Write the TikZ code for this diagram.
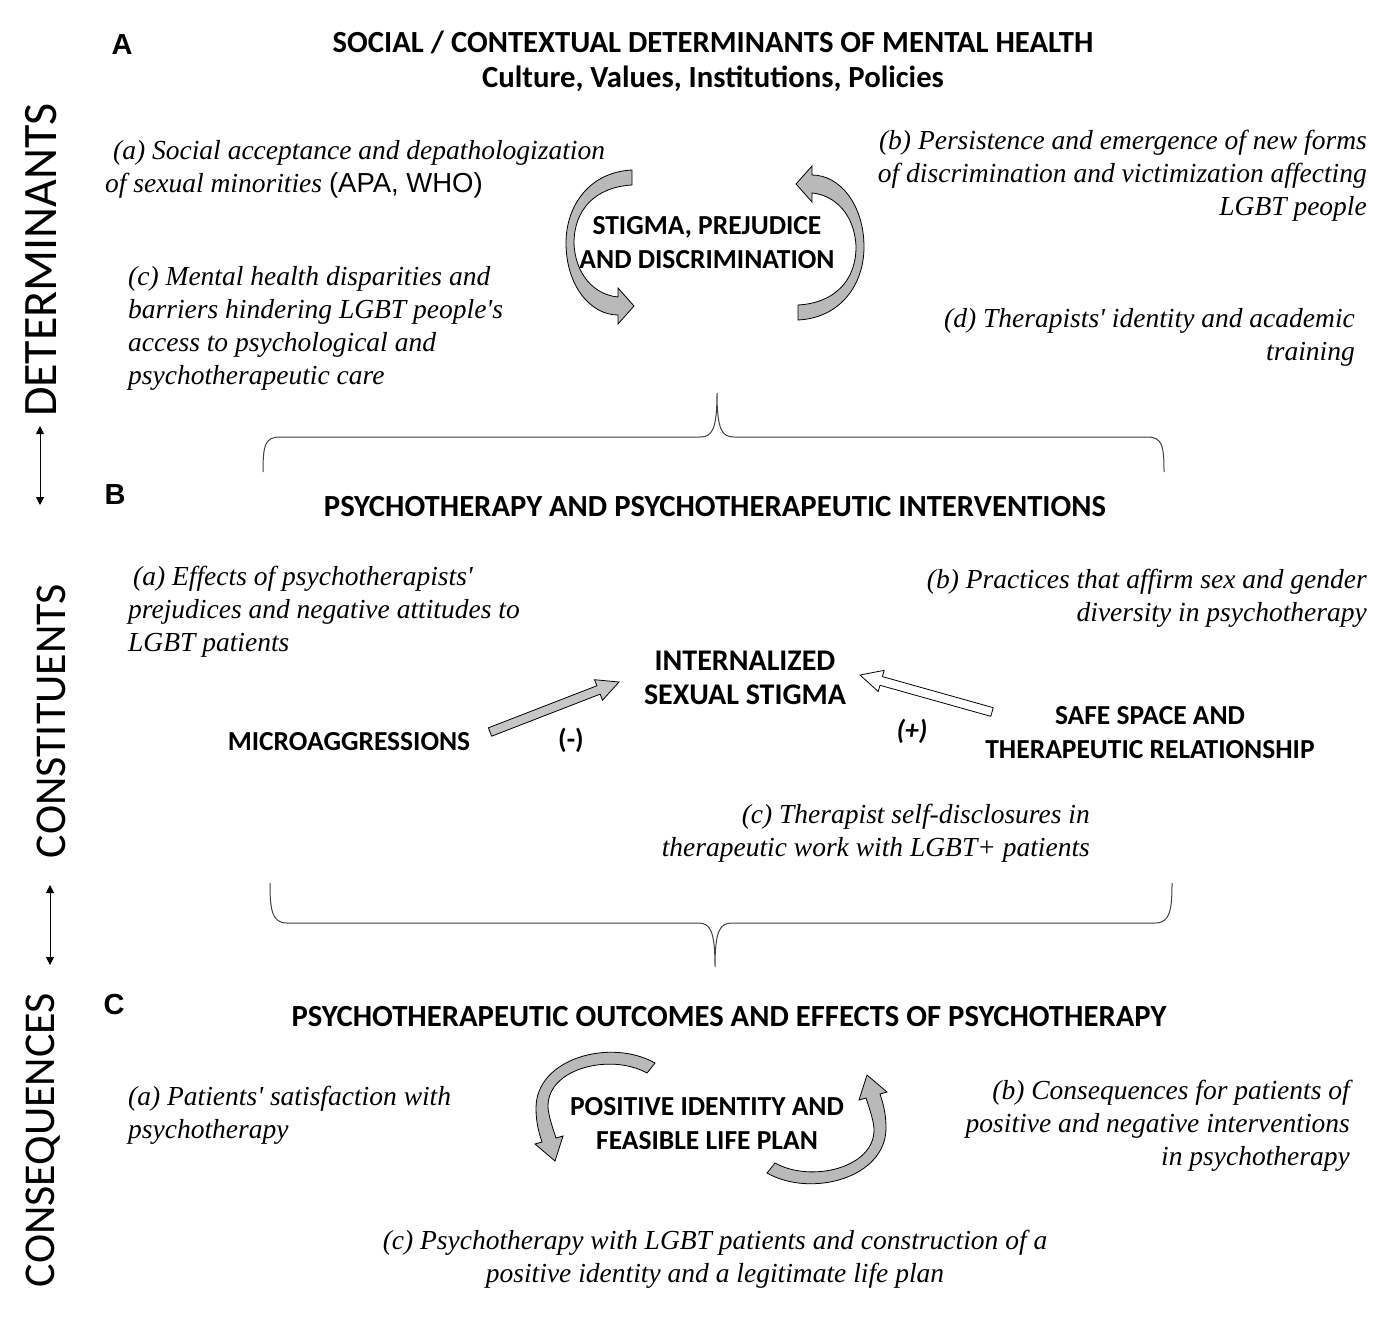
\documentclass[tikz,border=0pt]{standalone}
\usepackage{fontspec}
\setmainfont{Liberation Serif}
\newfontfamily\calfont{Carlito}
\newfontfamily\arfont{Liberation Sans}
\usetikzlibrary{calc,arrows.meta}

\newcommand{\ap}{\textquotesingle}

\tikzset{
  note/.style={font=\itshape\fontsize{27.5}{33}\selectfont,inner sep=0pt},
  caps/.style={font=\calfont\bfseries\fontsize{27.5}{34}\selectfont,align=center,inner sep=0pt},
  title/.style={caps,font=\calfont\bfseries\fontsize{30.7}{35}\selectfont},
  letter/.style={font=\arfont\bfseries\fontsize{29}{30}\selectfont,inner sep=0pt},
  side/.style={font=\calfont\fontsize{44}{48}\selectfont,rotate=90,inner sep=0pt},
  band/.style={draw=black,line width=0.8pt,fill=gray!55},
  brace/.style={draw=black!75,line width=1pt},
  updown/.style={{Triangle[length=8pt,width=8pt]}-{Triangle[length=8pt,width=8pt]},line width=1pt},
  loopA/.pic={
    \path[band] (-83,-75) .. controls (-125,-73) and (-149,-40) .. (-149,-2)
      .. controls (-149,40) and (-125,70) .. (-97,70)
      -- (-97,79) -- (-81,61) -- (-97,43) -- (-97,52)
      .. controls (-120,50) and (-140,30) .. (-141,-2)
      .. controls (-141,-35) and (-120,-58) .. (-83,-60) -- cycle;
  },
  loopC/.pic={
    \path[band] (-56,-55) .. controls (-100,-80) and (-175,-60) .. (-175,-10)
      .. controls (-175,5) and (-172,15) .. (-169,24)
      -- (-176,26) -- (-156,43) -- (-148,18) -- (-155,20)
      .. controls (-160,5) and (-163,-5) .. (-163,-12)
      .. controls (-163,-50) and (-100,-65) .. (-64,-45) -- cycle;
  },
}

% straight block arrow: from, to, fill
\newcommand{\blockarrow}[3]{%
  \path[draw=black,line width=0.8pt,fill=#3]
    ($(#1)!4.5pt!-90:(#2)$)
    -- ($(#2)!22pt!(#1)!4.5pt!90:(#1)$)
    -- ($(#2)!22pt!(#1)!11pt!90:(#1)$)
    -- (#2)
    -- ($(#2)!22pt!(#1)!11pt!-90:(#1)$)
    -- ($(#2)!22pt!(#1)!4.5pt!-90:(#1)$)
    -- ($(#1)!4.5pt!90:(#2)$) -- cycle;}

\begin{document}
\begin{tikzpicture}[x=1pt,y=-1pt]
\useasboundingbox[fill=white] (0,0) rectangle (1396,1317);

% side labels
\node[side,font=\calfont\fontsize{48}{50}\selectfont] (det) at (41,260) {DETERMINANTS};
\node[side] (cons) at (51,721) {CONSTITUENTS};
\node[side] (conq) at (43,1140) {CONSEQUENCES};
\coordinate (d1) at (40,426);
\coordinate (d2) at (40,505);
\coordinate (c1) at (50,885);
\coordinate (c2) at (50,965);
\draw[updown] (d1) -- (d2);
\draw[updown] (c1) -- (c2);

% A
\node[letter] (la) at (122,45) {A};
\node[title] (ta) at (713,61) {SOCIAL / CONTEXTUAL DETERMINANTS OF MENTAL HEALTH\\Culture, Values, Institutions, Policies};
\node[note,anchor=north west,align=left] (aa) at (105,140) {\hspace*{8pt}(a) Social acceptance and depathologization\\of sexual minorities {\upshape\arfont(APA, WHO)}};
\node[note,anchor=north east,align=right] (ab) at (1367,130) {(b) Persistence and emergence of new forms\\of discrimination and victimization affecting\\LGBT people};
\node[note,anchor=north west,align=left] (ac) at (128,266) {(c) Mental health disparities and\\barriers hindering LGBT people\ap s\\access to psychological and\\psychotherapeutic care};
\node[note,anchor=north east,align=right] (ad) at (1355,308) {(d) Therapists\ap{} identity and academic\\training};
\node[caps] (stigma) at (707,243) {STIGMA, PREJUDICE\\AND DISCRIMINATION};
\pic at (715,245) {loopA};
\pic[rotate=180] at (715,245) {loopA};

\draw[brace] (263,472) .. controls (263,445) and (265,437) .. (280,437) -- (700,437)
  .. controls (712,437) and (717,430) .. (717,393)
  .. controls (717,430) and (722,437) .. (734,437) -- (1147,437)
  .. controls (1162,437) and (1164,445) .. (1164,472);

% B
\node[letter] (lb) at (115,495) {B};
\node[title] (tb) at (715,507) {PSYCHOTHERAPY AND PSYCHOTHERAPEUTIC INTERVENTIONS};
\node[note,anchor=north west,align=left] (ba) at (128,566) {\hspace*{5pt}(a) Effects of psychotherapists\ap\\prejudices and negative attitudes to\\LGBT patients};
\node[note,anchor=north east,align=right] (bb) at (1367,569) {(b) Practices that affirm sex and gender\\diversity in psychotherapy};
\node[caps,font=\calfont\bfseries\fontsize{30}{34}\selectfont] (iss) at (745,678) {INTERNALIZED\\SEXUAL STIGMA};
\node[caps] (micro) at (349,742) {MICROAGGRESSIONS};
\node[caps] (safe) at (1150,733) {SAFE SPACE AND\\THERAPEUTIC RELATIONSHIP};
\node[caps] (minus) at (571,740) {(-)};
\node[caps,font=\calfont\bfseries\itshape\fontsize{27.5}{34}\selectfont] (plus) at (912,731) {(+)};
\coordinate (m1) at (490,732);
\coordinate (m2) at (619,682);
\coordinate (s1) at (992,712);
\coordinate (s2) at (860,675);
\blockarrow{m1}{m2}{gray!45}
\blockarrow{s1}{s2}{white}
\node[note,anchor=north east,align=right] (bc) at (1090,804) {(c) Therapist self-disclosures in\\therapeutic work with LGBT+ patients};

\draw[brace] (270,883) .. controls (270,910) and (272,923) .. (287,923) -- (698,923)
  .. controls (710,923) and (715,930) .. (715,967)
  .. controls (715,930) and (720,923) .. (732,923) -- (1155,923)
  .. controls (1170,923) and (1172,910) .. (1172,883);

% C
\node[letter] (lc) at (114,1005) {C};
\node[title] (tc) at (729,1017) {PSYCHOTHERAPEUTIC OUTCOMES AND EFFECTS OF PSYCHOTHERAPY};
\node[note,anchor=north west,align=left] (ca) at (128,1086) {(a) Patients\ap{} satisfaction with\\psychotherapy};
\node[note,anchor=north east,align=right] (cb) at (1350,1080) {(b) Consequences for patients of\\positive and negative interventions\\in psychotherapy};
\node[caps] (pos) at (707,1124) {POSITIVE IDENTITY AND\\FEASIBLE LIFE PLAN};
\pic at (711,1118) {loopC};
\pic[rotate=180] at (711,1118) {loopC};
\node[note,anchor=north,align=center] (cc) at (715,1230) {(c) Psychotherapy with LGBT patients and construction of a\\positive identity and a legitimate life plan};
\end{tikzpicture}
\end{document}
